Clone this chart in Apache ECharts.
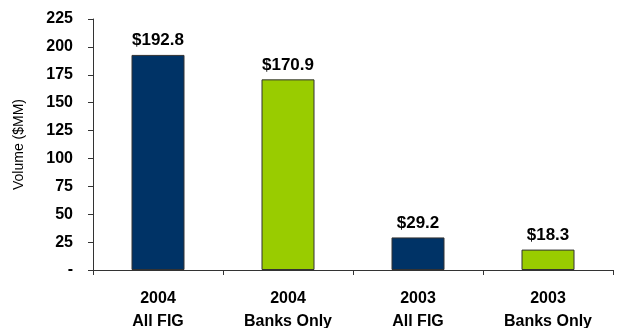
<!DOCTYPE html>
<html>
<head>
<meta charset="utf-8">
<script src="https://cdn.jsdelivr.net/npm/echarts@6/dist/echarts.min.js"></script>
<style>
html,body{margin:0;padding:0;background:#fff;}
#chart{width:618px;height:328px;}
</style>
</head>
<body>
<div id="chart"></div>
<script>
// Issuance volume by year and segment ($MM)
var categories = ['2004\nAll FIG', '2004\nBanks Only', '2003\nAll FIG', '2003\nBanks Only'];
var volumes = [192.8, 170.9, 29.2, 18.3];
var barColors = ['#003366', '#99CC00', '#003366', '#99CC00'];
var yTicks = [0, 25, 50, 75, 100, 125, 150, 175, 200, 225];

var font = '"Liberation Sans", Arial, sans-serif';
var chart = echarts.init(document.getElementById('chart'), null, {renderer: 'canvas'});
chart.setOption({
  animation: false,
  grid: {left: 93, right: 5, top: 19, bottom: 58, containLabel: false, outerBoundsMode: 'none'},
  xAxis: {
    type: 'category',
    data: categories,
    axisLine: {lineStyle: {color: '#333', width: 1}},
    axisTick: {show: true, alignWithLabel: false, length: 5, lineStyle: {color: '#333'}},
    axisLabel: {
      color: '#000', fontFamily: font, fontWeight: 'bold', fontSize: 16,
      lineHeight: 23, margin: 17, interval: 0
    }
  },
  yAxis: {
    type: 'value',
    min: yTicks[0],
    max: yTicks[yTicks.length - 1],
    interval: 25,
    name: 'Volume ($MM)',
    nameLocation: 'middle',
    nameGap: 67,
    nameTextStyle: {color: '#000', fontFamily: font, fontSize: 14},
    axisLine: {show: true, lineStyle: {color: '#333', width: 1}},
    axisTick: {show: true, length: 5, lineStyle: {color: '#333'}},
    splitLine: {show: false},
    axisLabel: {
      color: '#000', fontFamily: font, fontWeight: 'bold', fontSize: 16, margin: 20,
      formatter: function (v) { return v === 0 ? '-' : String(v); }
    }
  },
  series: [{
    type: 'bar',
    data: volumes.map(function (v, i) {
      return {value: v, itemStyle: {color: barColors[i]}};
    }),
    barWidth: 53,
    itemStyle: {borderColor: '#333', borderWidth: 1},
    label: {
      show: true, position: 'top', distance: 6,
      color: '#000', fontFamily: font, fontWeight: 'bold', fontSize: 17,
      formatter: function (p) { return '$' + p.value.toFixed(1); }
    }
  }]
});
</script>
</body>
</html>
